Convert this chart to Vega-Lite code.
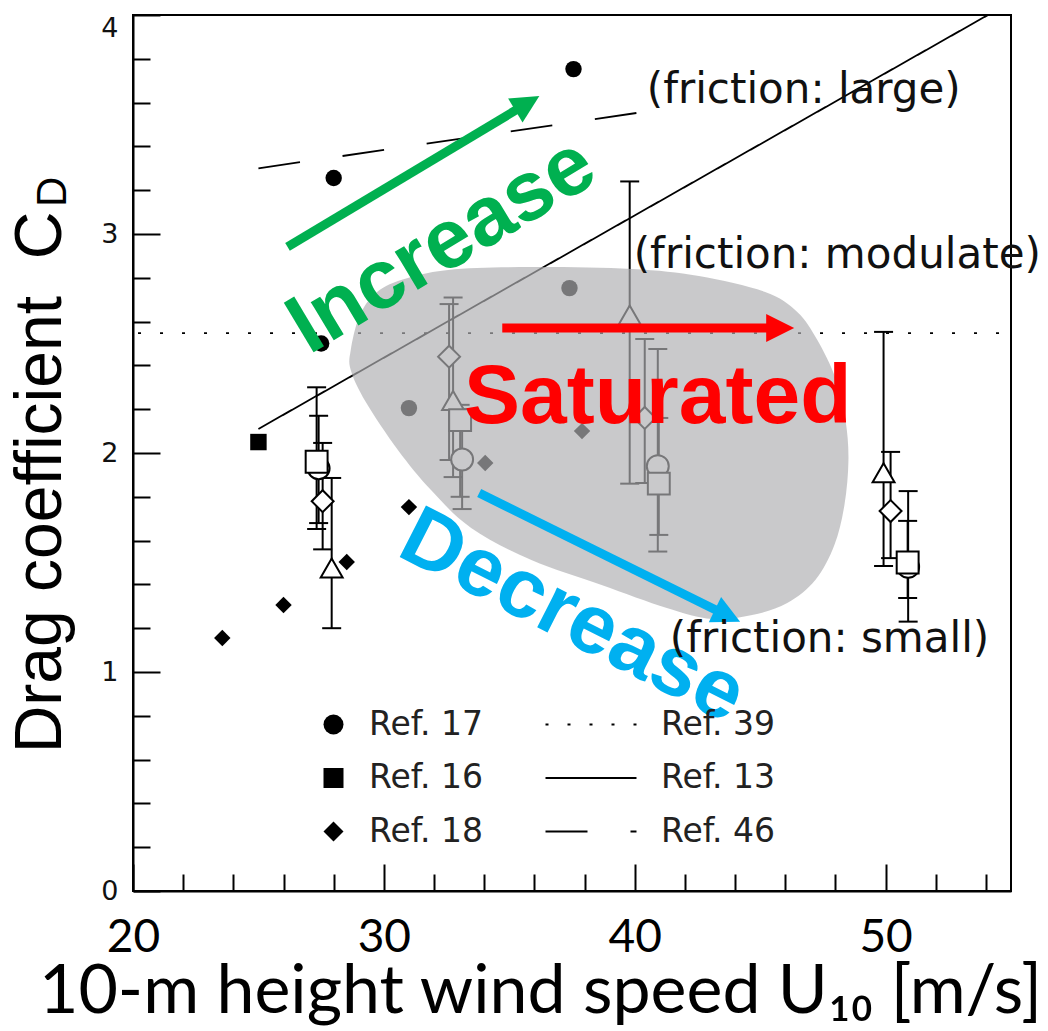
{
  "$schema": "https://vega.github.io/schema/vega-lite/v6.json",
  "width": 878,
  "height": 876,
  "autosize": {"type": "none"},
  "padding": {"left": 133, "top": 15, "right": 37, "bottom": 140},
  "background": "white",
  "config": {
    "view": {"stroke": "black", "strokeWidth": 2},
    "axis": {"grid": false, "domainColor": "black", "domainWidth": 2, "tickColor": "black", "tickWidth": 2}
  },
  "datasets": {
    "lines": [
      {"ref": "Ref. 39", "x": 20.2, "y": 2.547},
      {"ref": "Ref. 39", "x": 54.7, "y": 2.547},
      {"ref": "Ref. 13", "x": 25.0, "y": 2.11},
      {"ref": "Ref. 13", "x": 54.08, "y": 4.0},
      {"ref": "Ref. 46", "x": 25.0, "y": 3.3},
      {"ref": "Ref. 46", "x": 40.1, "y": 3.553}
    ],
    "open": [
      {"series": "open circle", "x": 27.4, "y": 1.93, "lo": 1.68, "hi": 2.17},
      {"series": "open circle", "x": 33.12, "y": 1.97, "lo": 1.744, "hi": 2.2},
      {"series": "open circle", "x": 40.92, "y": 1.94, "lo": 1.55, "hi": 2.475},
      {"series": "open circle", "x": 50.9, "y": 1.48, "lo": 1.23, "hi": 1.826},
      {"series": "open triangle", "x": 27.92, "y": 1.475, "lo": 1.2, "hi": 1.886},
      {"series": "open triangle", "x": 32.76, "y": 2.24, "lo": 1.89, "hi": 2.71},
      {"series": "open triangle", "x": 39.8, "y": 2.63, "lo": 1.86, "hi": 3.24},
      {"series": "open triangle", "x": 49.92, "y": 1.91, "lo": 1.484, "hi": 2.553},
      {"series": "open diamond", "x": 27.56, "y": 1.78, "lo": 1.56, "hi": 2.046},
      {"series": "open diamond", "x": 32.6, "y": 2.44, "lo": 1.968, "hi": 2.68},
      {"series": "open diamond", "x": 40.4, "y": 2.16, "lo": 1.863, "hi": 2.52},
      {"series": "open diamond", "x": 50.2, "y": 1.735, "lo": 1.52, "hi": 2.005},
      {"series": "open square", "x": 27.32, "y": 1.96, "lo": 1.653, "hi": 2.3},
      {"series": "open square", "x": 33.04, "y": 2.15, "lo": 1.8, "hi": 2.22},
      {"series": "open square", "x": 40.96, "y": 1.86, "lo": 1.626, "hi": 2.16},
      {"series": "open square", "x": 50.88, "y": 1.5, "lo": 1.338, "hi": 1.69}
    ],
    "filled": [
      {"ref": "Ref. 17", "x": 37.56, "y": 3.753},
      {"ref": "Ref. 17", "x": 28.0, "y": 3.256},
      {"ref": "Ref. 17", "x": 37.4, "y": 2.753},
      {"ref": "Ref. 17", "x": 27.5, "y": 2.5},
      {"ref": "Ref. 17", "x": 31.0, "y": 2.205},
      {"ref": "Ref. 16", "x": 25.0, "y": 2.05},
      {"ref": "Ref. 18", "x": 23.56, "y": 1.155},
      {"ref": "Ref. 18", "x": 26.0, "y": 1.306},
      {"ref": "Ref. 18", "x": 28.52, "y": 1.502},
      {"ref": "Ref. 18", "x": 31.0, "y": 1.753},
      {"ref": "Ref. 18", "x": 34.04, "y": 1.954},
      {"ref": "Ref. 18", "x": 37.9, "y": 2.1}
    ],
    "blob": [
      {"i": 1, "x": 28.68, "y": 2.47},
      {"i": 2, "x": 29.0, "y": 2.616},
      {"i": 3, "x": 29.56, "y": 2.717},
      {"i": 4, "x": 30.56, "y": 2.785},
      {"i": 5, "x": 32.56, "y": 2.836},
      {"i": 6, "x": 35.88, "y": 2.849},
      {"i": 7, "x": 39.88, "y": 2.84},
      {"i": 8, "x": 42.56, "y": 2.808},
      {"i": 9, "x": 45.2, "y": 2.735},
      {"i": 10, "x": 46.48, "y": 2.644},
      {"i": 11, "x": 47.28, "y": 2.516},
      {"i": 12, "x": 48.0, "y": 2.342},
      {"i": 13, "x": 48.4, "y": 2.151},
      {"i": 14, "x": 48.52, "y": 1.968},
      {"i": 15, "x": 48.36, "y": 1.763},
      {"i": 16, "x": 47.96, "y": 1.58},
      {"i": 17, "x": 47.2, "y": 1.42},
      {"i": 18, "x": 46.08, "y": 1.315},
      {"i": 19, "x": 44.68, "y": 1.26},
      {"i": 20, "x": 43.08, "y": 1.242},
      {"i": 21, "x": 41.28, "y": 1.292},
      {"i": 22, "x": 38.68, "y": 1.397},
      {"i": 23, "x": 35.88, "y": 1.511},
      {"i": 24, "x": 33.48, "y": 1.658},
      {"i": 25, "x": 31.88, "y": 1.831},
      {"i": 26, "x": 30.56, "y": 2.014},
      {"i": 27, "x": 29.28, "y": 2.233},
      {"i": 28, "x": 28.68, "y": 2.379}
    ],
    "trends": [
      {"trend": "Increase", "x0": 26.16, "y0": 2.941, "x1": 35.72, "y1": 3.597, "heading": 59, "tx": 32.32, "ty": 2.945, "tangle": -31},
      {"trend": "Saturated", "x0": 34.72, "y0": 2.571, "x1": 45.8, "y1": 2.571, "heading": 90, "tx": 40.92, "ty": 2.251, "tangle": 0},
      {"trend": "Decrease", "x0": 33.8, "y0": 1.817, "x1": 43.7, "y1": 1.257, "heading": 116, "tx": 37.52, "ty": 1.251, "tangle": 27}
    ],
    "notes": [
      {"label": "(friction: large)", "x": 40.48, "y": 3.598},
      {"label": "(friction: modulate)", "x": 39.96, "y": 2.845},
      {"label": "(friction: small)", "x": 41.4, "y": 1.091}
    ],
    "subscript": [
      {"label": "D", "x": 17.32, "y": 3.192}
    ]
  },
  "resolve": {"axis": {"x": "independent", "y": "independent"}, "scale": {"shape": "independent"}},
  "layer": [
    {
      "data": {"name": "lines"},
      "mark": {"type": "line", "color": "black", "strokeWidth": 1.8, "strokeCap": "butt"},
      "encoding": {
        "x": {"field": "x", "type": "quantitative", "scale": {"domain": [20, 55], "nice": false, "zero": false},
          "axis": {"orient": "bottom", "values": [20, 30, 40, 50], "tickSize": -27, "labelPadding": 87, "labelBaseline": "alphabetic", "labelFont": "Lato", "labelFontSize": 46, "labelColor": "black", "labelFlush": false, "labelAngle": 0,
            "title": "10-m height wind speed U₁₀ [m/s]", "titleFont": "Lato", "titleFontSize": 68, "titleFontWeight": "normal", "titleColor": "black", "titleX": 407, "titleY": 121, "titleBaseline": "alphabetic", "titleAlign": "center"}},
        "y": {"field": "y", "type": "quantitative", "scale": {"domain": [0, 4], "nice": false, "zero": false},
          "axis": {"orient": "left", "values": [0, 1, 2, 3, 4], "tickSize": -27, "labelPadding": 42, "labelFont": "DejaVu Sans", "labelFontSize": 27, "labelColor": "#111",
            "labelBaseline": {"condition": {"test": "datum.value == 4", "value": "top"}, "value": "middle"},
            "title": "Drag coefficient\u00a0\u00a0C", "titleFont": "Liberation Sans", "titleFontSize": 66, "titleFontWeight": "normal", "titleColor": "black", "titleAngle": 270, "titleX": -73, "titleY": 467, "titleBaseline": "alphabetic", "titleAlign": "center"}},
        "strokeDash": {"field": "ref", "type": "nominal",
          "scale": {"domain": ["Ref. 39", "Ref. 13", "Ref. 46"], "range": [[3, 19], [1, 0], [42, 43]]},
          "legend": {"orient": "none", "legendX": 441.5, "legendY": 693, "title": null, "labelFont": "DejaVu Sans", "labelFontSize": 33, "labelColor": "#222", "symbolType": "M-3,0H3", "symbolSize": 920, "symbolStrokeColor": "black", "symbolFillColor": "transparent", "symbolStrokeWidth": 2, "rowPadding": 19.5, "labelOffset": 53.5, "padding": 0,
            "encode": {"symbols": {"update": {"strokeDash": {"signal": "datum.value === 'Ref. 46' ? [22, 23] : datum.value === 'Ref. 39' ? [3, 15] : [1, 0]"}}}}}}
      }
    },
    {
      "data": {"name": "open"},
      "mark": {"type": "rule", "color": "black", "strokeWidth": 2},
      "encoding": {
        "x": {"field": "x", "type": "quantitative", "scale": {"domain": [20, 55], "nice": false, "zero": false},
          "axis": {"orient": "bottom", "values": [22, 24, 26, 28, 32, 34, 36, 38, 42, 44, 46, 48, 52, 54], "tickSize": -17, "labels": false, "domain": false, "title": null}},
        "y": {"field": "lo", "type": "quantitative", "scale": {"domain": [0, 4], "nice": false, "zero": false},
          "axis": {"orient": "left", "values": [0.2, 0.4, 0.6, 0.8, 1.2, 1.4, 1.6, 1.8, 2.2, 2.4, 2.6, 2.8, 3.2, 3.4, 3.6, 3.8], "tickSize": -17, "labels": false, "domain": false, "title": null}},
        "y2": {"field": "hi"}
      }
    },
    {
      "data": {"name": "open"},
      "mark": {"type": "tick", "orient": "horizontal", "size": 19, "thickness": 2, "color": "black", "opacity": 1},
      "encoding": {
        "x": {"field": "x", "type": "quantitative", "scale": {"domain": [20, 55], "nice": false, "zero": false}, "axis": null},
        "y": {"field": "hi", "type": "quantitative", "scale": {"domain": [0, 4], "nice": false, "zero": false}, "axis": null}
      }
    },
    {
      "data": {"name": "open"},
      "mark": {"type": "tick", "orient": "horizontal", "size": 19, "thickness": 2, "color": "black", "opacity": 1},
      "encoding": {
        "x": {"field": "x", "type": "quantitative", "scale": {"domain": [20, 55], "nice": false, "zero": false}, "axis": null},
        "y": {"field": "lo", "type": "quantitative", "scale": {"domain": [0, 4], "nice": false, "zero": false}, "axis": null}
      }
    },
    {
      "data": {"name": "open"},
      "mark": {"type": "point", "filled": false, "fill": "white", "stroke": "black", "strokeWidth": 2, "size": 480, "opacity": 1},
      "encoding": {
        "x": {"field": "x", "type": "quantitative", "scale": {"domain": [20, 55], "nice": false, "zero": false}, "axis": null},
        "y": {"field": "y", "type": "quantitative", "scale": {"domain": [0, 4], "nice": false, "zero": false}, "axis": null},
        "shape": {"field": "series", "type": "nominal",
          "scale": {"domain": ["open circle", "open square", "open diamond", "open triangle"], "range": ["circle", "square", "diamond", "triangle-up"]},
          "legend": null}
      }
    },
    {
      "data": {"name": "filled"},
      "mark": {"type": "point", "filled": true, "color": "black", "size": 270, "opacity": 1},
      "encoding": {
        "x": {"field": "x", "type": "quantitative", "scale": {"domain": [20, 55], "nice": false, "zero": false}, "axis": null},
        "y": {"field": "y", "type": "quantitative", "scale": {"domain": [0, 4], "nice": false, "zero": false}, "axis": null},
        "shape": {"field": "ref", "type": "nominal",
          "scale": {"domain": ["Ref. 17", "Ref. 16", "Ref. 18"], "range": ["circle", "square", "diamond"]},
          "legend": {"orient": "none", "legendX": 184, "legendY": 693, "title": null, "labelFont": "DejaVu Sans", "labelFontSize": 33, "labelColor": "#222", "symbolSize": 400, "symbolFillColor": "black", "symbolStrokeColor": "black", "symbolStrokeWidth": 0, "symbolOpacity": 1, "rowPadding": 19.5, "labelOffset": 19, "padding": 0,
            "encode": {"symbols": {"update": {"size": {"value": 420}}}}}}
      }
    },
    {
      "data": {"name": "blob"},
      "mark": {"type": "line", "interpolate": "cardinal-closed", "fill": "#b0afb2", "fillOpacity": 0.68, "strokeWidth": 0, "strokeOpacity": 0},
      "encoding": {
        "x": {"field": "x", "type": "quantitative", "scale": {"domain": [20, 55], "nice": false, "zero": false}, "axis": null},
        "y": {"field": "y", "type": "quantitative", "scale": {"domain": [0, 4], "nice": false, "zero": false}, "axis": null},
        "order": {"field": "i", "type": "quantitative"}
      }
    },
    {
      "data": {"name": "trends"},
      "mark": {"type": "rule", "strokeWidth": 9, "strokeCap": "butt"},
      "encoding": {
        "x": {"field": "x0", "type": "quantitative", "scale": {"domain": [20, 55], "nice": false, "zero": false}, "axis": null},
        "y": {"field": "y0", "type": "quantitative", "scale": {"domain": [0, 4], "nice": false, "zero": false}, "axis": null},
        "x2": {"field": "x1"},
        "y2": {"field": "y1"},
        "color": {"field": "trend", "type": "nominal", "scale": {"domain": ["Increase", "Saturated", "Decrease"], "range": ["#00b050", "#ff0000", "#00b0f0"]}, "legend": null}
      }
    },
    {
      "data": {"name": "trends"},
      "mark": {"type": "point", "shape": "M0,-1L1,1L-1,1Z", "filled": true, "size": 784, "opacity": 1, "strokeWidth": 0},
      "encoding": {
        "x": {"field": "x1", "type": "quantitative", "scale": {"domain": [20, 55], "nice": false, "zero": false}, "axis": null},
        "y": {"field": "y1", "type": "quantitative", "scale": {"domain": [0, 4], "nice": false, "zero": false}, "axis": null},
        "angle": {"field": "heading", "type": "quantitative", "scale": null},
        "color": {"field": "trend", "type": "nominal", "scale": {"domain": ["Increase", "Saturated", "Decrease"], "range": ["#00b050", "#ff0000", "#00b0f0"]}, "legend": null}
      }
    },
    {
      "data": {"name": "trends"},
      "mark": {"type": "text", "font": "Liberation Sans", "fontWeight": "bold", "fontSize": 84, "align": "center", "baseline": "middle"},
      "encoding": {
        "x": {"field": "tx", "type": "quantitative", "scale": {"domain": [20, 55], "nice": false, "zero": false}, "axis": null},
        "y": {"field": "ty", "type": "quantitative", "scale": {"domain": [0, 4], "nice": false, "zero": false}, "axis": null},
        "text": {"field": "trend"},
        "angle": {"field": "tangle", "type": "quantitative", "scale": null},
        "color": {"field": "trend", "type": "nominal", "scale": {"domain": ["Increase", "Saturated", "Decrease"], "range": ["#00b050", "#ff0000", "#00b0f0"]}, "legend": null}
      }
    },
    {
      "data": {"name": "notes"},
      "mark": {"type": "text", "font": "DejaVu Sans", "fontSize": 42, "align": "left", "baseline": "alphabetic", "color": "#111"},
      "encoding": {
        "x": {"field": "x", "type": "quantitative", "scale": {"domain": [20, 55], "nice": false, "zero": false}, "axis": null},
        "y": {"field": "y", "type": "quantitative", "scale": {"domain": [0, 4], "nice": false, "zero": false}, "axis": null},
        "text": {"field": "label"}
      }
    },
    {
      "data": {"name": "subscript"},
      "mark": {"type": "text", "font": "Liberation Sans", "fontSize": 42, "align": "center", "baseline": "alphabetic", "angle": 270, "color": "black"},
      "encoding": {
        "x": {"field": "x", "type": "quantitative", "scale": {"domain": [20, 55], "nice": false, "zero": false}, "axis": null},
        "y": {"field": "y", "type": "quantitative", "scale": {"domain": [0, 4], "nice": false, "zero": false}, "axis": null},
        "text": {"field": "label"}
      }
    }
  ]
}
